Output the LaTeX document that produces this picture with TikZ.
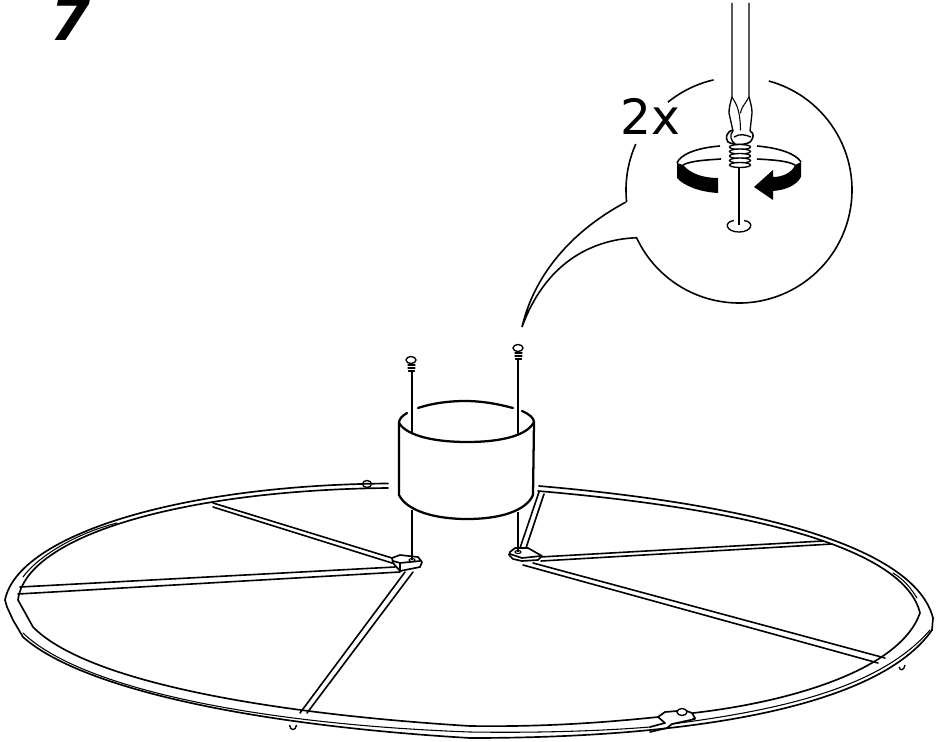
\documentclass[tikz,border=0pt]{standalone}
\usepackage{fontspec}
\usepackage{tikz}
\usetikzlibrary{math}
\newfontfamily\labelfont{DejaVu Sans}
\tikzset{
  ringline/.style={line width=1.25pt,line join=round,line cap=round},
  thinline/.style={line width=0.8pt,line cap=round},
  spokeline/.style={line width=1.2pt,line cap=round},
  bubbleline/.style={line width=1.2pt,line join=miter},
  cupline/.style={line width=1.7pt,line cap=round},
  pinline/.style={line width=1pt},
}
\begin{document}
\begin{tikzpicture}[x=0.75pt,y=-0.75pt]
\tikzmath{
\Rb=113;
}
\useasboundingbox (0,0) rectangle (942,742);
\coordinate (B) at (739,190);

\node[anchor=base west,inner sep=0,font={\labelfont\bfseries\itshape\fontsize{43.5pt}{44pt}\selectfont}] (stepnum) at (50,41) {7};
\node[anchor=base west,inner sep=0,font={\labelfont\fontsize{36.5pt}{37pt}\selectfont}] (count) at (620,134) {2x};

\draw[bubbleline] (B) ++(-74.7:\Rb) arc(-74.7:155:\Rb)
  .. controls (600,239) and (548,256) .. (522,327)
  .. controls (534,276) and (570,232) .. (626,202);
\draw[bubbleline] (B) ++(174:\Rb) arc(174:204:\Rb);
\draw[bubbleline] (B) ++(231:\Rb) arc(231:257:\Rb);

\draw[pinline] (732,3) -- (732,97) .. controls (730,104) and (729,108) .. (729,113) -- (733,131);
\draw[pinline] (749,3) -- (749,97) .. controls (751,104) and (752,108) .. (752,113) -- (750,131);
\draw[thinline] (732,97) .. controls (736,104) and (740,108) .. (740.5,130);
\draw[thinline] (749,97) .. controls (745,104) and (741,108) .. (740.5,113);
\draw[pinline,line width=1.2pt] (733,130) .. controls (726,132) and (725,138) .. (728,142)
  .. controls (735,146) and (748,145) .. (751,141)
  .. controls (754,137) and (754,133) .. (750,131);
\draw[pinline] (733,131) .. controls (729,135) and (731,141) .. (735,144);
\draw[pinline] (734,137) .. controls (740,133) and (746,135) .. (751,137);
\draw[pinline,fill=white] (740,147) ellipse (10.5 and 2.5);
\draw[pinline,fill=white] (740,151.5) ellipse (10.5 and 2.5);
\draw[pinline,fill=white] (740,156) ellipse (10.5 and 2.5);
\draw[pinline,fill=white] (740,160.5) ellipse (10.5 and 2.5);
\draw[pinline,fill=white] (740,165) ellipse (10.5 and 2.5);
\draw[pinline] (739,168) -- (739,225);
\draw[pinline] (744,220.5) .. controls (755,222) and (752,232) .. (739,232)
  .. controls (726,232) and (723,222) .. (734,220.5);

\draw[bubbleline] (720,146) .. controls (695,148) and (680,155) .. (677,163);
\draw[bubbleline] (721,159) .. controls (705,160) and (690,161) .. (683,165);
\fill (677,163) -- (677,178) .. controls (684,186) and (700,192) .. (718,193)
  -- (718,178) .. controls (702,178) and (690,173) .. (683,165) -- cycle;
\draw[bubbleline] (757,146) .. controls (780,148) and (796,154) .. (801,162);
\draw[bubbleline] (757,159) .. controls (775,160) and (788,161) .. (795,165);
\fill (801,162) -- (801,177) .. controls (796,186) and (785,190) .. (773,191)
  -- (773,200) -- (754,187) -- (773,170) -- (773,177)
  .. controls (782,177) and (792,173) .. (795,165) -- cycle;

\draw[pinline] (412,372) -- (412,433);
\draw[pinline] (412,510) -- (412,560);
\draw[pinline] (518,360) -- (518,434);
\draw[pinline] (518,512) -- (518,552);
\draw[pinline] (411,360) ellipse (5 and 3.5);
\draw[thinline] (408,365) -- (415,365) (408,368) -- (415,368) (408.5,371) -- (414.5,371);
\draw[pinline] (518,348) ellipse (5 and 3.5);
\draw[thinline] (515,353) -- (522,353) (515,356) -- (522,356) (515.5,359) -- (521.5,359);

\draw[cupline] (399,423) .. controls (407,436) and (435,442) .. (467,442)
  .. controls (500,442) and (527,436) .. (534,422);
\draw[cupline] (418,408) .. controls (433,403) and (450,401) .. (465,401)
  .. controls (482,401) and (498,404) .. (513,408);
\draw[cupline] (407,413) .. controls (402,416) and (399,419) .. (399,423);
\draw[cupline] (522,411) .. controls (529,414) and (534,418) .. (534,422);
\draw[cupline] (399,423) -- (399,495) .. controls (407,511) and (435,519) .. (467,519)
  .. controls (500,519) and (526,511) .. (533,495) -- (534,422);

\draw[ringline] (388,483.5) .. controls (180,485) and (18,535) .. (5,600)
  -- (7,607) -- (13,620) -- (23,637)
  .. controls (80,688) and (250,725) .. (470,738)
  .. controls (700,738) and (880,705) .. (932,630) -- (933,618)
  .. controls (915,548) and (760,505) .. (539,486);
\draw[ringline] (388,488) .. controls (185,490) and (26,535) .. (18,600) -- (33,627)
  .. controls (85,680) and (260,713) .. (470,726)
  .. controls (540,727) and (600,723) .. (658,717);
\draw[ringline] (693,713) .. controls (790,702) and (900,670) .. (920,613)
  .. controls (905,550) and (760,510) .. (538,491);
\draw[thinline] (23,633) .. controls (80,688) and (255,724) .. (470,732)
  .. controls (540,733) and (600,731) .. (650,727);
\draw[thinline] (672,724) .. controls (780,710) and (880,688) .. (930,630);
\draw[thinline] (117,523) .. controls (70,535) and (35,560) .. (23,577);
\draw[thinline] (893,573) .. controls (905,580) and (912,590) .. (917,598);

\draw[ringline] (658,717) -- (665,712) -- (677,711);
\draw[ringline] (687,711) -- (692,713) -- (695,718) -- (693,719);
\draw[ringline] (695,719) -- (672,724) -- (667,728) -- (650,732);
\draw[ringline] (658,717) -- (665,723) -- (650,727);
\draw[pinline] (682,712) ellipse (5 and 3.5);
\draw[pinline] (367,484) ellipse (4.5 and 3.5);
\draw[pinline] (289.5,725) .. controls (290,731) and (296,731) .. (296.5,725);
\draw[pinline] (899,667) .. controls (900,671) and (904,671) .. (905,665);

\draw[spokeline] (539,492) -- (520,548);
\draw[spokeline] (544,494) -- (526,548);
\draw[spokeline] (540,557) -- (823,541);
\draw[spokeline] (541,561) -- (832,544);
\draw[spokeline] (533,563) -- (885,658);
\draw[spokeline] (523,565) -- (878,663);
\draw[spokeline] (213,503) -- (392,558);
\draw[spokeline] (213,507) -- (392,563);
\draw[spokeline] (20,587) -- (395,567);
\draw[spokeline] (18,594) -- (400,572);
\draw[spokeline] (300,713) -- (405,572);
\draw[spokeline] (307,713) -- (413,572);

\draw[ringline,fill=white] (392,558) -- (400,555) -- (418,557) -- (422,562) -- (420,567)
  -- (400,571) -- (393,563) -- cycle;
\draw[ringline] (393,561) -- (400,563) -- (420,561);
\draw[ringline] (400,563) -- (400,571);
\draw[thinline] (412,560) ellipse (3 and 1.5);
\draw[ringline,fill=white] (510,552) -- (515,548) -- (528,548) -- (542,556) -- (538,560)
  -- (522,561) -- (513,559) -- (509,555) -- cycle;
\draw[ringline] (510,554) -- (522,558) -- (541,556);
\draw[thinline] (518,552) ellipse (3 and 1.5);
\draw[pinline] (518,512) -- (518,552);
\draw[pinline] (412,510) -- (412,560);
\end{tikzpicture}
\end{document}
